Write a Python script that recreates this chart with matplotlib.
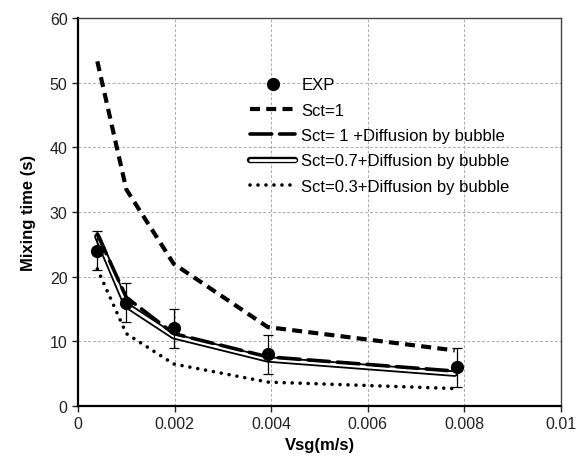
import numpy as np
import matplotlib
matplotlib.use('Agg')
import matplotlib.pyplot as plt

plt.rcParams['font.family'] = ['Liberation Sans', 'DejaVu Sans']

# experiment
exp_x = [0.0004, 0.001, 0.00198, 0.00393, 0.00785]
exp_y = [24.0, 16.0, 12.0, 8.0, 6.0]
exp_err = [3.0, 3.0, 3.0, 3.0, 3.0]

# simulations
sim_x = [0.0004, 0.001, 0.00198, 0.00393, 0.0078]
sct1 = [53.3, 33.5, 22.0, 12.2, 8.6]
sct1_diff = [26.6, 16.8, 11.2, 7.6, 5.4]
sct07_diff = [26.2, 15.6, 10.8, 7.2, 5.0]
sct03_diff = [21.2, 11.2, 6.5, 3.7, 2.7]

labels = ['EXP', 'Sct=1', 'Sct= 1 +Diffusion by bubble',
          'Sct=0.7+Diffusion by bubble', 'Sct=0.3+Diffusion by bubble']


def main():
    fig = plt.figure(figsize=(5.81, 4.60), dpi=100)
    ax = fig.add_axes([78/581, 1-407/460, (561-78)/581, (407-19)/460])

    # double line (black outline, white core)
    l07, = ax.plot(sim_x, sct07_diff, '-', c='k', lw=4.6, solid_capstyle='round', zorder=3)
    l07w, = ax.plot(sim_x, sct07_diff, '-', c='w', lw=2.0, solid_capstyle='round', zorder=3.1)

    l1d, = ax.plot(sim_x, sct1_diff, c='k', lw=2.6, dashes=(6.0, 2.2),
                   dash_capstyle='round', zorder=4)
    l1, = ax.plot(sim_x, sct1, c='k', lw=3.0, dashes=(2.4, 1.5), zorder=4)
    l03, = ax.plot(sim_x, sct03_diff, c='k', lw=2.6, dashes=(0.01, 2.2),
                   dash_capstyle='round', zorder=4)

    eb = ax.errorbar(exp_x, exp_y, yerr=exp_err, fmt='o', c='k', ms=8.5,
                     ecolor='k', elinewidth=0.9, capsize=3.5, capthick=0.9, zorder=5)

    ax.set_xlim(0, 0.01)
    ax.set_ylim(0, 60)
    ax.set_xticks(np.arange(0, 0.0101, 0.002))
    ax.set_xticklabels(['0', '0.002', '0.004', '0.006', '0.008', '0.01'])
    ax.set_yticks(range(0, 61, 10))
    ax.tick_params(direction='out', length=4, width=1.0, labelsize=11.5, colors='#222222')
    ax.grid(True, ls='--', lw=0.7, c='#aaaaaa', dashes=(3, 2))
    ax.set_axisbelow(True)

    for s in ['left', 'bottom']:
        ax.spines[s].set_linewidth(1.6)
        ax.spines[s].set_color('k')
    for s in ['top', 'right']:
        ax.spines[s].set_linewidth(1.0)
        ax.spines[s].set_color('#444444')

    ax.set_xlabel('Vsg(m/s)', fontsize=12, fontweight='bold', labelpad=4)
    ax.set_ylabel('Mixing time (s)', fontsize=12, fontweight='bold', labelpad=10)

    ax.legend([eb.lines[0], l1, l1d, (l07, l07w), l03], labels,
              loc='upper left', bbox_to_anchor=(242/581, 1-70/460),
              bbox_transform=fig.transFigure, frameon=False, fontsize=12,
              handlelength=2.7, handletextpad=0.35, labelspacing=0.62,
              borderpad=0, numpoints=1)

    fig.savefig('out.png', dpi=100)


if __name__ == '__main__': main()
